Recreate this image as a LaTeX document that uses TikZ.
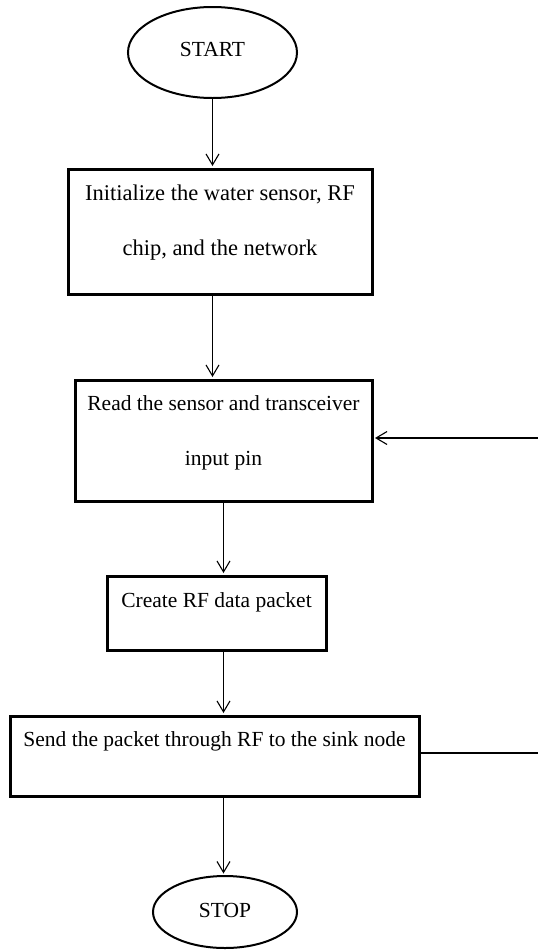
\documentclass[tikz,border=0pt]{standalone}
\usepackage{fontspec}
\setmainfont{Liberation Serif}
\usetikzlibrary{shapes.geometric,arrows.meta}
\tikzset{
  stepbox/.style={draw, line width=3pt, inner sep=0pt},
  term/.style={draw, ellipse, line width=2pt, inner sep=0pt, font=\fontsize{21.5}{26}\selectfont},
  txt/.style={align=center, inner sep=0pt, font=\fontsize{21.5}{55}\selectfont},
  arr/.style={line width=1.1pt, -{Straight Barb[length=11pt,width=13pt,line width=1.1pt]}, shorten >=1.5pt},
  ln/.style={line width=1.1pt}
}
\begin{document}
\begin{tikzpicture}[x=1pt,y=-1pt]
\useasboundingbox (0,0) rectangle (538,951);
\node[term, minimum width=169pt, minimum height=91pt] (start) at (212.5,52.5) {\raisebox{6pt}{START}};
\node[stepbox, minimum width=304pt, minimum height=125pt] (b1) at (220,231.5) {};
\node[txt, font=\fontsize{22.5}{55}\selectfont] (t1) at ([yshift=9pt]b1.center) {Initialize the water sensor, RF\\chip, and the network};
\node[stepbox, minimum width=297pt, minimum height=121pt] (b2) at (223.5,440.5) {};
\node[txt] (t2) at ([yshift=8pt]b2.center) {Read the sensor and transceiver\\input pin};
\node[stepbox, minimum width=219pt, minimum height=74pt] (b3) at (216.5,613) {};
\node[txt] (t3) at ([yshift=11pt]b3.center) {Create RF data packet};
\node[stepbox, minimum width=409pt, minimum height=80pt] (b4) at (214.5,756) {};
\node[txt] (t4) at ([yshift=15pt]b4.center) {Send the packet through RF to the sink node};
\node[term, minimum width=144pt, minimum height=72pt] (stop) at (225,912) {\raisebox{4pt}{STOP}};
\coordinate (fbin) at (538,438);
\coordinate (fbout) at (538,753);
\draw[arr] (start.south) -- (start.south |- b1.north);
\draw[arr] (start.south |- b1.south) -- (start.south |- b2.north);
\draw[arr] (b2.south) -- (b2.south |- b3.north);
\draw[arr] (b2.south |- b3.south) -- (b2.south |- b4.north);
\draw[arr] (b2.south |- b4.south) -- (b2.south |- stop.north);
\draw[arr] (fbin) -- (b2.east |- fbin);
\draw[ln] (b4.east |- fbout) -- (fbout);
\end{tikzpicture}
\end{document}
